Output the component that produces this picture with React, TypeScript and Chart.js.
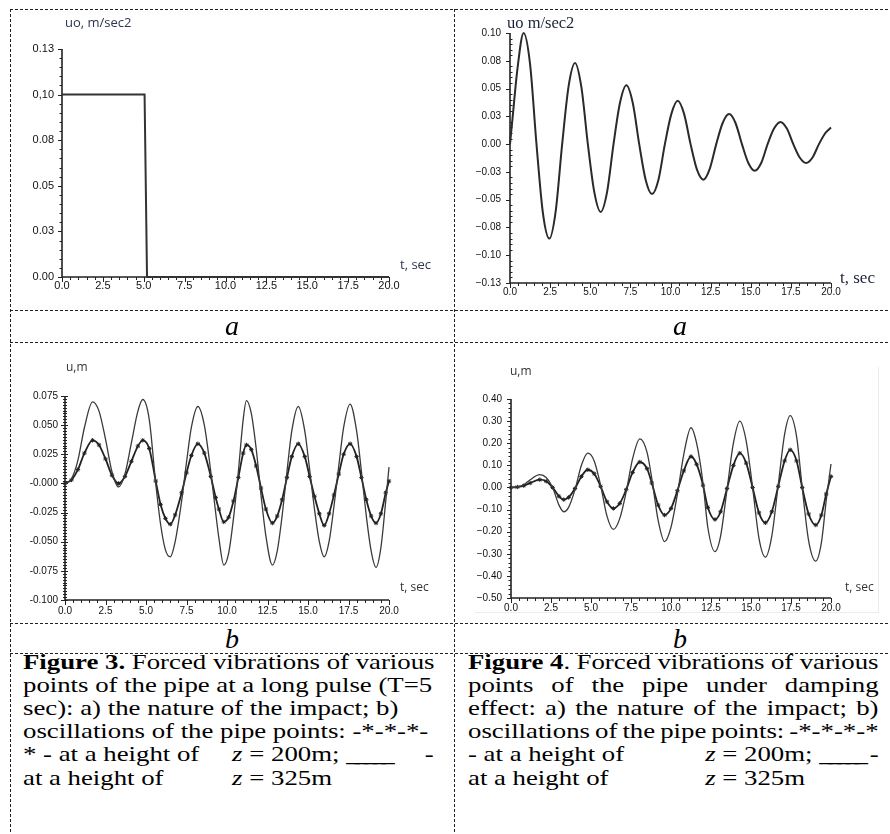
import React, { useEffect, useRef } from 'react';
import { Chart, registerables } from 'chart.js';

Chart.register(...registerables);

// ---------------- shared x axis ----------------
const xMajorTicks = [0, 2.5, 5, 7.5, 10, 12.5, 15, 17.5, 20];
const xMajorLabels = ['0.0', '2.5', '5.0', '7.5', '10.0', '12.5', '15.0', '17.5', '20.0'];

// ---------------- Figure 3a : rectangular pulse ----------------
const fig3aTime = [0, 5.05, 5.2, 20];
const fig3aAccel = [0.1, 0.1, 0, 0];
const fig3aYTicks = [0, 0.025, 0.05, 0.075, 0.1, 0.125];
const fig3aYLabels = ['0.00', '0.03', '0.05', '0.08', '0,10', '0.13'];

// ---------------- Figure 4a : damped impact ----------------
const fig4aTime = [0, 0.15, 0.45, 0.85, 1.25, 1.65, 2.05, 2.45, 2.85, 3.25, 3.65, 4.05, 4.45, 4.85, 5.25, 5.65, 6.05, 6.45, 6.85, 7.25, 7.65, 8.05, 8.45, 8.85, 9.25, 9.65, 10.05, 10.45, 10.85, 11.25, 11.65, 12.05, 12.45, 12.85, 13.25, 13.65, 14.05, 14.45, 14.85, 15.25, 15.65, 16.05, 16.45, 16.85, 17.25, 17.65, 18.05, 18.45, 18.85, 19.25, 19.65, 20];
const fig4aAccel = [0, 0.022, 0.066, 0.1, 0.072, 0, -0.062, -0.085, -0.06, 0, 0.052, 0.073, 0.051, 0, -0.043, -0.061, -0.043, 0, 0.037, 0.053, 0.037, 0, -0.032, -0.045, -0.032, 0, 0.027, 0.039, 0.027, 0, -0.023, -0.032, -0.022, 0, 0.019, 0.027, 0.019, 0, -0.017, -0.024, -0.017, 0, 0.014, 0.02, 0.014, 0, -0.012, -0.017, -0.012, 0, 0.01, 0.015];
const fig4aYTicks = [-0.125, -0.1, -0.075, -0.05, -0.025, 0, 0.025, 0.05, 0.075, 0.1];
const fig4aYLabels = ['\u22120.13', '\u22120.10', '\u22120.08', '\u22120.05', '\u22120.03', '0.00', '0.03', '0.05', '0.08', '0.10'];

// ---------------- Figure 3b : pipe oscillations ----------------
const fig3bTime = [0, 0.4, 0.8, 1.2, 1.7, 2.1, 2.5, 2.9, 3.3, 3.7, 4.1, 4.5, 4.8, 5.2, 5.6, 5.9, 6.2, 6.5, 6.8, 7.2, 7.5, 7.8, 8.2, 8.6, 9.0, 9.3, 9.5, 9.8, 10.1, 10.4, 10.7, 11.0, 11.2, 11.5, 11.8, 12.1, 12.4, 12.8, 13.1, 13.4, 13.7, 14.0, 14.4, 14.8, 15.1, 15.4, 15.7, 16.0, 16.3, 16.6, 16.9, 17.2, 17.6, 18.0, 18.3, 18.6, 18.9, 19.2, 19.5, 19.8, 20.0];
const fig3bZ325 = [0, 0.004, 0.02, 0.048, 0.07, 0.062, 0.038, 0.01, -0.003, 0.008, 0.035, 0.062, 0.072, 0.055, 0, -0.035, -0.057, -0.063, -0.05, -0.015, 0.018, 0.048, 0.066, 0.05, 0.01, -0.025, -0.047, -0.07, -0.06, -0.03, 0.01, 0.055, 0.071, 0.06, 0.03, -0.01, -0.045, -0.07, -0.058, -0.028, 0.01, 0.045, 0.066, 0.045, 0.012, -0.022, -0.05, -0.063, -0.05, -0.02, 0.015, 0.048, 0.068, 0.045, 0.01, -0.028, -0.058, -0.072, -0.055, -0.015, 0.014];
const fig3bZ200 = [0, 0.003, 0.012, 0.026, 0.037, 0.033, 0.021, 0.007, 0, 0.006, 0.019, 0.032, 0.037, 0.03, 0.002, -0.018, -0.03, -0.035, -0.027, -0.008, 0.009, 0.024, 0.034, 0.026, 0.006, -0.012, -0.022, -0.033, -0.029, -0.015, 0.005, 0.026, 0.033, 0.029, 0.015, -0.004, -0.022, -0.034, -0.028, -0.014, 0.005, 0.023, 0.034, 0.023, 0.006, -0.011, -0.026, -0.036, -0.026, -0.01, 0.008, 0.025, 0.034, 0.023, 0.005, -0.014, -0.028, -0.034, -0.026, -0.008, 0.002];
const fig3bYTicks = [-0.1, -0.075, -0.05, -0.025, 0, 0.025, 0.05, 0.075];
const fig3bYLabels = ['-0.100', '-0.075', '-0.050', '-0.025', '-0.000', '0.025', '0.050', '0.075'];

// ---------------- Figure 4b : pipe oscillations under damping ----------------
const fig4bTime = [0, 0.4, 0.8, 1.2, 1.8, 2.2, 2.6, 3.0, 3.3, 3.6, 4.0, 4.4, 4.8, 5.2, 5.6, 6.0, 6.4, 6.8, 7.2, 7.6, 8.05, 8.5, 8.8, 9.2, 9.6, 10.0, 10.4, 10.8, 11.25, 11.6, 12.0, 12.3, 12.75, 13.1, 13.5, 13.9, 14.3, 14.7, 15.1, 15.5, 15.9, 16.3, 16.7, 17.1, 17.45, 17.85, 18.2, 18.6, 19.05, 19.4, 19.7, 20.0];
const fig4bZ325 = [0, 0.002, 0.012, 0.035, 0.058, 0.045, 0, -0.08, -0.11, -0.09, -0.01, 0.1, 0.155, 0.12, 0.01, -0.13, -0.19, -0.14, -0.02, 0.13, 0.22, 0.16, 0.04, -0.15, -0.245, -0.18, -0.03, 0.15, 0.27, 0.2, 0.02, -0.18, -0.29, -0.22, -0.01, 0.2, 0.3, 0.21, 0, -0.23, -0.315, -0.22, 0.01, 0.24, 0.325, 0.23, 0, -0.24, -0.333, -0.25, -0.06, 0.106];
const fig4bZ200 = [0, 0.002, 0.008, 0.02, 0.035, 0.028, 0, -0.04, -0.055, -0.045, -0.005, 0.05, 0.08, 0.062, 0.005, -0.065, -0.095, -0.072, -0.01, 0.068, 0.115, 0.085, 0.02, -0.08, -0.125, -0.095, -0.015, 0.075, 0.14, 0.105, 0.01, -0.09, -0.145, -0.11, -0.005, 0.1, 0.155, 0.11, 0, -0.115, -0.16, -0.11, 0.005, 0.12, 0.17, 0.12, 0, -0.12, -0.17, -0.125, -0.03, 0.05];
const fig4bYTicks = [-0.5, -0.4, -0.3, -0.2, -0.1, 0, 0.1, 0.2, 0.3, 0.4];
const fig4bYLabels = ['\u22120.50', '\u22120.40', '\u22120.30', '\u22120.20', '\u22120.10', '0.00', '0.10', '0.20', '0.30', '0.40'];

// ---------------- helpers ----------------
const pts = (t: number[], v: number[]) => t.map((x, i) => ({ x, y: v[i] }));

const axisFrame = {
  id: 'axisFrame',
  beforeDatasetsDraw(chart: any, _a: any, o: any) {
    const { ctx, chartArea: a } = chart;
    const x = chart.scales.x;
    const y = chart.scales.y;
    const isMajor = (v: number, step: number) => Math.abs(v / step - Math.round(v / step)) < 1e-6;
    ctx.save();
    ctx.strokeStyle = o.color;
    ctx.lineWidth = o.tickWidth;
    ctx.beginPath();
    const nx = Math.round((x.max - x.min) / o.xMinorStep);
    for (let i = 0; i <= nx; i++) {
      const v = x.min + i * o.xMinorStep;
      const m = isMajor(v, o.xMajorStep);
      const px = Math.round(x.getPixelForValue(v)) + 0.5;
      ctx.moveTo(px, a.bottom - (m ? o.xMajorIn : o.xMinorIn));
      ctx.lineTo(px, a.bottom + (m ? o.xMajorOut : o.xMinorOut));
    }
    const ny = Math.round((y.max - y.min) / o.yMinorStep);
    for (let i = 0; i <= ny; i++) {
      const v = y.min + i * o.yMinorStep;
      const m = isMajor(v, o.yMajorStep);
      const py = Math.round(y.getPixelForValue(v)) + 0.5;
      ctx.moveTo(a.left - (m ? o.yMajorOut : o.yMinorOut), py);
      ctx.lineTo(a.left + (m ? o.yMajorIn : o.yMinorIn), py);
    }
    ctx.stroke();
    ctx.lineWidth = o.axisWidth;
    ctx.beginPath();
    ctx.moveTo(a.left, a.top);
    ctx.lineTo(a.left, a.bottom);
    ctx.lineTo(a.right, a.bottom);
    ctx.stroke();
    ctx.restore();
  },
};

type Cfg = {
  datasets: any[];
  yMin: number; yMax: number;
  yMajors: number[]; yLabels: string[];
  yWidth: number; xHeight: number;
  pad: { left: number; top: number; right: number; bottom: number };
  fontSize: number; yPad: number; xPad: number;
  frame: any;
};

function buildConfig(o: Cfg): any {
  const font = { family: "'Liberation Sans', Arial, sans-serif", size: o.fontSize };
  return {
    type: 'line',
    data: { datasets: o.datasets },
    plugins: [axisFrame],
    options: {
      responsive: false,
      animation: false,
      devicePixelRatio: 1,
      layout: { padding: o.pad },
      plugins: { legend: { display: false }, tooltip: { enabled: false }, axisFrame: o.frame },
      elements: { point: { radius: 0 } },
      scales: {
        x: {
          type: 'linear', min: 0, max: 20,
          grid: { display: false, drawTicks: false }, border: { display: false },
          afterBuildTicks: (s: any) => { s.ticks = xMajorTicks.map((v) => ({ value: v })); },
          afterFit: (s: any) => { s.height = o.xHeight; s.paddingLeft = 0; s.paddingRight = 0; },
          ticks: {
            autoSkip: false, maxRotation: 0, minRotation: 0, padding: o.xPad, color: '#111', font,
            callback: (_v: any, i: number) => xMajorLabels[i],
          },
        },
        y: {
          type: 'linear', min: o.yMin, max: o.yMax,
          grid: { display: false, drawTicks: false }, border: { display: false },
          afterBuildTicks: (s: any) => { s.ticks = o.yMajors.map((v) => ({ value: v })); },
          afterFit: (s: any) => { s.width = o.yWidth; s.paddingTop = 0; s.paddingBottom = 0; },
          ticks: {
            autoSkip: false, padding: o.yPad, color: '#111', font,
            callback: (_v: any, i: number) => o.yLabels[i],
          },
        },
      },
    },
  };
}

function Plot({ left, top, width, height, cfg }: { left: number; top: number; width: number; height: number; cfg: () => any }) {
  const ref = useRef<HTMLCanvasElement>(null);
  useEffect(() => {
    const chart = new Chart(ref.current as HTMLCanvasElement, cfg());
    return () => chart.destroy();
  }, []);
  return (
    <canvas ref={ref} width={width} height={height}
      style={{ position: 'absolute', left, top, width, height }} />
  );
}

const solid = (data: any[], w = 1.3, c = '#333') => ({
  data, borderColor: c, borderWidth: w, pointRadius: 0, cubicInterpolationMode: 'monotone', clip: false,
});
const starred = (data: any[]) => ({
  data, borderColor: '#222', borderWidth: 1.8, pointRadius: 2.2, pointStyle: 'star',
  pointBorderColor: '#222', pointBorderWidth: 1, pointBackgroundColor: '#222',
  cubicInterpolationMode: 'monotone', clip: false,
});

const frameBase = { color: '#222', tickWidth: 1, axisWidth: 1.6, xMajorStep: 2.5, xMinorStep: 0.5 };

const cfg3a = () => buildConfig({
  datasets: [{ ...solid(pts(fig3aTime, fig3aAccel), 2, '#333'), cubicInterpolationMode: 'default', tension: 0 }],
  yMin: 0, yMax: 0.125, yMajors: fig3aYTicks, yLabels: fig3aYLabels,
  yWidth: 50, xHeight: 20, pad: { left: 0, top: 37, right: 53, bottom: 11 },
  fontSize: 11, yPad: 8, xPad: 2,
  frame: { ...frameBase, yMajorStep: 0.025, yMinorStep: 0.005, xMajorIn: 0, xMajorOut: 5, xMinorIn: 0, xMinorOut: 3, yMajorOut: 4, yMajorIn: 0, yMinorOut: 2.5, yMinorIn: 0 },
});

const cfg4a = () => buildConfig({
  datasets: [solid(pts(fig4aTime, fig4aAccel), 2, '#2a2a2a')],
  yMin: -0.125, yMax: 0.1, yMajors: fig4aYTicks, yLabels: fig4aYLabels,
  yWidth: 54, xHeight: 20, pad: { left: 0, top: 21, right: 55, bottom: 5 },
  fontSize: 10, yPad: 9, xPad: 3,
  frame: { ...frameBase, yMajorStep: 0.025, yMinorStep: 0.005, xMajorIn: 0, xMajorOut: 5, xMinorIn: 0, xMinorOut: 3, yMajorOut: 4, yMajorIn: 0, yMinorOut: 0, yMinorIn: 2.5 },
});

const cfg3b = () => buildConfig({
  datasets: [solid(pts(fig3bTime, fig3bZ325), 1.3, '#3a3a3a'), starred(pts(fig3bTime, fig3bZ200))],
  yMin: -0.1, yMax: 0.075, yMajors: fig3bYTicks, yLabels: fig3bYLabels,
  yWidth: 53, xHeight: 18, pad: { left: 0, top: 52, right: 53, bottom: 4 },
  fontSize: 10, yPad: 7, xPad: 5,
  frame: { ...frameBase, yMajorStep: 0.025, yMinorStep: 0.0025, xMajorIn: 0, xMajorOut: 5, xMinorIn: 0, xMinorOut: 3, yMajorOut: 4, yMajorIn: 3, yMinorOut: 2, yMinorIn: 2 },
});

const cfg4b = () => buildConfig({
  datasets: [solid(pts(fig4bTime, fig4bZ325), 1.3, '#3a3a3a'), starred(pts(fig4bTime, fig4bZ200))],
  yMin: -0.5, yMax: 0.4, yMajors: fig4bYTicks, yLabels: fig4bYLabels,
  yWidth: 55, xHeight: 18, pad: { left: 0, top: 55, right: 55, bottom: 6 },
  fontSize: 10, yPad: 9, xPad: 4,
  frame: { ...frameBase, yMajorStep: 0.1, yMinorStep: 0.02, xMajorIn: 0, xMajorOut: 5, xMinorIn: 0, xMinorOut: 3, yMajorOut: 4, yMajorIn: 0, yMinorOut: 2.5, yMinorIn: 0 },
});

// ---------------- layout pieces ----------------
const HDash = ({ y }: { y: number }) => (
  <div style={{ position: 'absolute', left: 10, top: y, width: 880, height: 1,
    background: 'repeating-linear-gradient(90deg, #222 0 3px, transparent 3px 5px)' }} />
);
const VDash = ({ x }: { x: number }) => (
  <div style={{ position: 'absolute', left: x, top: 9, width: 1, height: 825,
    background: 'repeating-linear-gradient(180deg, #222 0 3px, transparent 3px 5px)' }} />
);

const Label = ({ x, cy, text, font, size, color = '#333' }: { x: number; cy: number; text: string; font: string; size: number; color?: string }) => (
  <div style={{ position: 'absolute', left: x, top: cy - size * 0.6, height: size * 1.2, lineHeight: `${size * 1.2}px`,
    fontFamily: font, fontSize: size, color, whiteSpace: 'nowrap' }}>{text}</div>
);

const serif = "'Liberation Serif', 'Times New Roman', serif";
const sans = "'Open Sans', 'Liberation Sans', sans-serif";

const SubLetter = ({ left, width, top, ch }: { left: number; width: number; top: number; ch: string }) => (
  <div style={{ position: 'absolute', left, width, top, height: 28, lineHeight: '28px', textAlign: 'center',
    fontFamily: serif, fontStyle: 'italic', fontSize: 28, color: '#000' }}>{ch}</div>
);

const CAP_SCALE = 1.275;
const CAP_W = 322;
const LINE_H = 23.2;

const JLine = ({ words }: { words: React.ReactNode[] }) => (
  <div style={{ display: 'flex', justifyContent: 'space-between', width: CAP_W, height: LINE_H, whiteSpace: 'nowrap' }}>
    {words.map((w, i) => <span key={i}>{w}</span>)}
  </div>
);
const PLine = ({ children }: { children: React.ReactNode }) => (
  <div style={{ position: 'relative', width: CAP_W, height: LINE_H, whiteSpace: 'nowrap' }}>{children}</div>
);
const At = ({ u, children }: { u: number; children: React.ReactNode }) => (
  <span style={{ position: 'absolute', left: u, top: 0 }}>{children}</span>
);
const AtRight = ({ children }: { children: React.ReactNode }) => (
  <span style={{ position: 'absolute', right: 0, top: 0 }}>{children}</span>
);
const Blank = () => <span style={{ letterSpacing: '-3.6px' }}>_____</span>;

const Caption = ({ left, children }: { left: number; children: React.ReactNode }) => (
  <div style={{ position: 'absolute', left, top: 650.7, width: CAP_W, transform: `scaleX(${CAP_SCALE})`,
    transformOrigin: '0 0', fontFamily: serif, fontSize: 21, lineHeight: `${LINE_H}px`, color: '#000' }}>
    {children}
  </div>
);

export default function App() {
  return (
    <div style={{ position: 'absolute', left: 0, top: 0, width: 890, height: 834, background: '#fff', overflow: 'hidden' }}>
      {/* table grid */}
      <HDash y={9} />
      <HDash y={310} />
      <HDash y={342} />
      <HDash y={623} />
      <HDash y={653} />
      <VDash x={10} />
      <VDash x={454} />

      {/* charts */}
      <Plot left={12} top={12} width={430} height={296} cfg={cfg3a} />
      <Plot left={456} top={12} width={430} height={296} cfg={cfg4a} />
      <Plot left={12} top={344} width={430} height={278} cfg={cfg3b} />
      <div style={{ position: 'absolute', left: 475, top: 612, width: 403, height: 1, background: '#ececec' }} />
      <div style={{ position: 'absolute', left: 878, top: 367, width: 1, height: 246, background: '#ececec' }} />
      <Plot left={456} top={344} width={430} height={278} cfg={cfg4b} />

      {/* axis titles */}
      <Label x={65} cy={23} text="uo, m/sec2" font={sans} size={13} color="#2c3650" />
      <Label x={400} cy={265} text="t, sec" font={sans} size={13} color="#2c3650" />
      <Label x={507} cy={23} text="uo m/sec2" font={serif} size={16.5} color="#1c2238" />
      <Label x={840} cy={278} text="t, sec" font={serif} size={17} color="#1c2238" />
      <Label x={66} cy={367} text="u,m" font={sans} size={12} color="#333" />
      <Label x={400} cy={587} text="t, sec" font={sans} size={12} color="#333" />
      <Label x={510} cy={371} text="u,m" font={sans} size={12} color="#333" />
      <Label x={845} cy={587} text="t, sec" font={sans} size={12} color="#333" />

      {/* sub-figure letters */}
      <SubLetter left={10} width={444} top={311.6} ch="a" />
      <SubLetter left={454} width={452} top={311.6} ch="a" />
      <SubLetter left={10} width={444} top={624.6} ch="b" />
      <SubLetter left={454} width={452} top={624.6} ch="b" />

      {/* captions */}
      <Caption left={23}>
        <PLine><b>Figure 3.</b> Forced vibrations of various</PLine>
        <PLine>points of the pipe at a long pulse (T=5</PLine>
        <PLine>sec): a) the nature of the impact; b)</PLine>
        <PLine>oscillations of the pipe points: -*-*-*-</PLine>
        <PLine>* - at a height of<At u={164}><i>z</i> = 200m; <Blank /></At><AtRight>-</AtRight></PLine>
        <PLine>at a height of<At u={164}><i>z</i> = 325m</At></PLine>
      </Caption>
      <Caption left={468}>
        <JLine words={[<><b>Figure 4</b>.</>, 'Forced', 'vibrations', 'of', 'various']} />
        <JLine words={['points', 'of', 'the', 'pipe', 'under', 'damping']} />
        <JLine words={['effect:', 'a)', 'the', 'nature', 'of', 'the', 'impact;', 'b)']} />
        <JLine words={['oscillations', 'of', 'the', 'pipe', 'points:', '-*-*-*-*']} />
        <PLine>- at a height of<At u={186}><i>z</i> = 200m; <Blank /></At><AtRight>-</AtRight></PLine>
        <PLine>at a height of<At u={186}><i>z</i> = 325m</At></PLine>
      </Caption>
    </div>
  );
}
